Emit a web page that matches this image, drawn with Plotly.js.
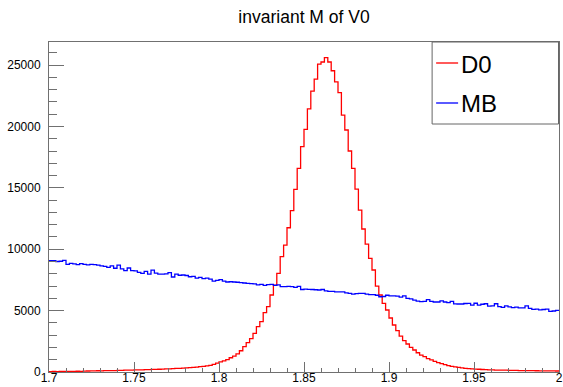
<!DOCTYPE html>
<html>
<head>
<meta charset="utf-8">
<script src="https://cdn.plot.ly/plotly-3.0.1.min.js"></script>
<style>html,body{margin:0;padding:0;background:#fff;}#chart{width:563px;height:387px;}</style>
</head>
<body>
<div id="chart"></div>
<script>
// Histogram binning
const xMin = 1.7;
const xMax = 2.0;
const nBins = 150;

const chartTitle = "invariant M of V0";
const seriesNames = ["D0", "MB"];

// D0 counts per bin
const d0Counts = [
  30,40,35,45,50,40,55,50,60,55,65,
  80,90,85,100,95,110,105,120,115,130,
  140,150,145,160,170,165,180,
  190,200,210,220,225,240,250,
  260,275,290,300,320,340,
  360,380,400,430,
  460,500,540,
  620,720,820,900,1000,1160,1300,1470,1730,2060,2390,2720,
  3140,3690,4100,4830,5320,6270,7080,8040,9390,10340,
  11750,13140,14870,16580,18350,19760,21440,22880,23860,25080,
  25250,25600,25250,24540,23640,22750,20930,19710,18000,16580,
  14900,13190,11650,10420,9260,8310,7000,6270,5590,5050,
  4400,3830,3370,2930,2550,2280,2010,1790,1570,1380,
  1250,1090,980,870,760,680,600,520,460,410,
  370,330,300,280,255,240,225,205,195,180,
  170,160,155,150,145,140,135,130,
  120,115,110,110,105,100,95,95,90,90,85,80
];

// MB counts per bin
const mbCounts = [
  9070,9060,9000,9020,9100,8760,8850,8800,8740,8830,
  8760,8720,8760,8740,8700,8650,8600,8520,8650,8450,
  8700,8400,8250,8470,8250,8240,8120,8030,8200,7980,
  8300,8050,7980,7970,8000,8100,7740,7980,7880,7900,
  7860,7760,7790,7650,7700,7600,7650,7560,7400,7470,
  7520,7400,7330,7350,7330,7310,7280,7250,7220,7200,
  7180,7100,7130,7050,7110,7140,7060,7100,6960,6950,
  6980,6960,6900,6980,6720,6750,6730,6720,6700,6680,
  6720,6600,6570,6560,6530,6520,6530,6450,6410,6350,
  6380,6400,6410,6340,6300,6300,6250,6130,6150,6250,
  6200,6200,6180,6100,6200,6000,5950,5860,5780,5740,
  5760,5900,5750,5700,5700,5790,5700,5650,5750,5550,
  5540,5540,5580,5590,5450,5600,5450,5520,5560,5370,
  5380,5560,5320,5270,5380,5300,5250,5280,5220,5230,
  5380,5180,5100,5120,5060,5090,5120,4940,4970,5020
];

const yMaxFactor = 1.05;

function stepArrays(counts) {
  const w = (xMax - xMin) / nBins;
  const xs = [], ys = [];
  for (let i = 0; i < counts.length; i++) {
    xs.push(xMin + i * w);
    ys.push(counts[i]);
  }
  xs.push(xMax);
  ys.push(counts[counts.length - 1]);
  return {xs, ys};
}

const d0 = stepArrays(d0Counts);
const mb = stepArrays(mbCounts);
const yTop = Math.max(...d0Counts, ...mbCounts) * yMaxFactor;

const font = "Liberation Sans, Arial, Helvetica, sans-serif";
const axisColor = "#707070";

const traces = [
  {x: d0.xs, y: d0.ys, type: "scatter", mode: "lines", line: {shape: "hv", color: "#ff0000", width: 1.3}, name: seriesNames[0], showlegend: false, hoverinfo: "skip"},
  {x: mb.xs, y: mb.ys, type: "scatter", mode: "lines", line: {shape: "hv", color: "#0000ff", width: 1.3}, name: seriesNames[1], showlegend: false, hoverinfo: "skip"}
];

const L = 48.5, R = 559, T = 42, B = 372;
const pw = R - L, ph = B - T;
const px = v => (v - L) / pw;
const py = v => (B - v) / ph;

const layout = {
  width: 563, height: 387,
  margin: {l: L, r: 563 - R, t: T, b: 387 - B, pad: 0},
  paper_bgcolor: "#ffffff", plot_bgcolor: "#ffffff",
  font: {family: font, color: "#000000", size: 12},
  title: {text: chartTitle, font: {family: font, size: 17.5, color: "#000"}, x: 0.5, xref: "paper", xanchor: "center", y: 1 - 17 / 387, yref: "container", yanchor: "middle"},
  showlegend: false,
  xaxis: {
    range: [xMin, xMax], dtick: 0.05, tick0: 1.7, ticks: "inside", ticklen: 10, tickcolor: axisColor, tickwidth: 1,
    showline: true, linecolor: axisColor, linewidth: 1, mirror: true, showgrid: false, zeroline: false,
    tickfont: {family: font, size: 12, color: "#000"}, ticklabelstandoff: -5,
    minor: {dtick: 0.01, tick0: 1.7, ticks: "inside", ticklen: 4, tickcolor: axisColor, showgrid: false}
  },
  yaxis: {
    range: [0, yTop], dtick: 5000, tick0: 0, ticks: "inside", ticklen: 15, tickcolor: axisColor, tickwidth: 1,
    showline: true, linecolor: axisColor, linewidth: 1, mirror: true, showgrid: false, zeroline: false,
    tickformat: "d",
    tickfont: {family: font, size: 12, color: "#000"}, ticklabelstandoff: 5,
    minor: {dtick: 1000, tick0: 0, ticks: "inside", ticklen: 8, tickcolor: axisColor, showgrid: false}
  },
  shapes: [
    {type: "rect", xref: "paper", yref: "paper", x0: px(432), x1: px(558.5), y0: py(124), y1: py(42), line: {color: "#666", width: 1}, fillcolor: "#ffffff", layer: "above"},
    {type: "line", xref: "paper", yref: "paper", x0: px(436), x1: px(458), y0: py(63), y1: py(63), line: {color: "#ff0000", width: 1.3}, layer: "above"},
    {type: "line", xref: "paper", yref: "paper", x0: px(436), x1: px(458), y0: py(103), y1: py(103), line: {color: "#0000ff", width: 1.3}, layer: "above"}
  ],
  annotations: [
    {text: seriesNames[0], xref: "paper", yref: "paper", x: px(459), y: py(64), xanchor: "left", yanchor: "middle", showarrow: false, font: {family: font, size: 24, color: "#000"}},
    {text: seriesNames[1], xref: "paper", yref: "paper", x: px(459), y: py(103), xanchor: "left", yanchor: "middle", showarrow: false, font: {family: font, size: 24, color: "#000"}}
  ]
};

Plotly.newPlot("chart", traces, layout, {staticPlot: true, displayModeBar: false});
</script>
</body>
</html>
